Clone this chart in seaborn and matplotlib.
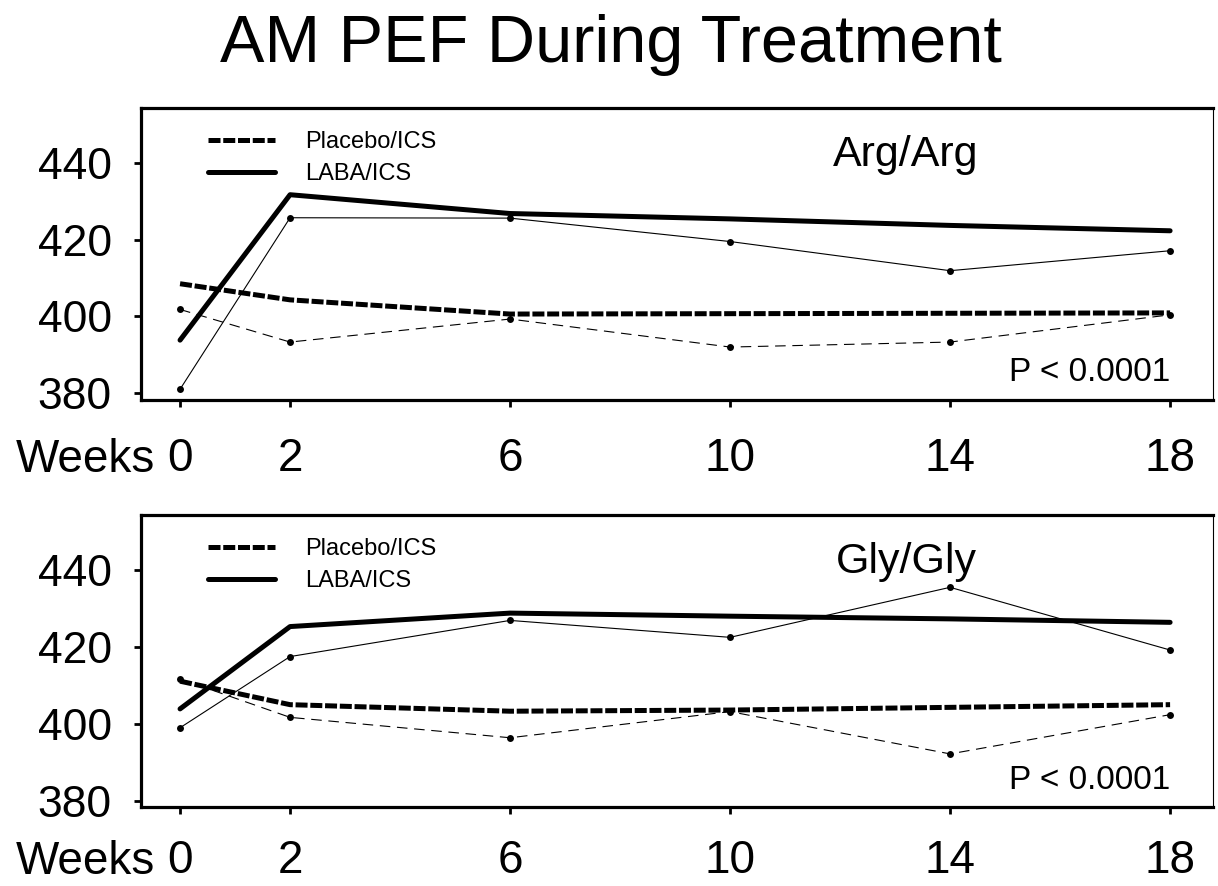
import numpy as np
import matplotlib
matplotlib.use("Agg")
import matplotlib.pyplot as plt
import seaborn as sns

sns.set_style("ticks")
plt.rcParams["font.family"] = ["Liberation Sans", "DejaVu Sans"]
plt.rcParams["text.color"] = "black"
plt.rcParams["xtick.color"] = "black"
plt.rcParams["ytick.color"] = "black"
plt.rcParams["xtick.labelcolor"] = "black"
plt.rcParams["ytick.labelcolor"] = "black"

WEEKS = [0, 2, 6, 10, 14, 18]
WEEK_LABELS = ["0", "2", "6", "10", "14", "18"]
Y_TICKS = [380, 400, 420, 440]

# Arg/Arg: thick = model fit, thin with dots = observed means
ARG_PLACEBO_FIT = [408.5, 404.3, 400.6, 400.7, 400.8, 400.9]
ARG_PLACEBO_OBS = [401.8, 393.3, 399.3, 392.0, 393.3, 400.4]
ARG_LABA_FIT = [393.8, 431.7, 426.8, 425.4, 423.7, 422.3]
ARG_LABA_OBS = [381.0, 425.7, 425.6, 419.5, 411.9, 417.1]

# Gly/Gly
GLY_PLACEBO_FIT = [411.1, 405.0, 403.3, 403.6, 404.3, 405.0]
GLY_PLACEBO_OBS = [411.7, 401.7, 396.4, 403.2, 392.2, 402.4]
GLY_LABA_FIT = [403.9, 425.3, 428.8, 428.0, 427.3, 426.4]
GLY_LABA_OBS = [399.0, 417.5, 426.9, 422.5, 435.5, 419.2]

PANELS = [
    ("Arg/Arg", ARG_PLACEBO_FIT, ARG_PLACEBO_OBS, ARG_LABA_FIT, ARG_LABA_OBS),
    ("Gly/Gly", GLY_PLACEBO_FIT, GLY_PLACEBO_OBS, GLY_LABA_FIT, GLY_LABA_OBS),
]

W, H = 1218, 886
fig = plt.figure(figsize=(W / 100, H / 100), dpi=100)
fig.patch.set_facecolor("white")

# pixel boxes (left, top, right, bottom)
boxes = [(141, 108, 1213, 400), (141, 515, 1213, 807)]
ylims = [(378.2, 454.3), (378.4, 454.3)]
# bottom row of week labels sits right at the figure edge, so nudge it up a bit
xpads = [22, 18]
weeks_y = [-0.245, -0.231]

THICK_DASH = (0, (2.4, 0.55))
THIN_DASH = (0, (9.5, 6))

for i, (name, pl_fit, pl_obs, lb_fit, lb_obs) in enumerate(PANELS):
    l, t, r, b = boxes[i]
    ax = fig.add_axes([l / W, 1 - b / H, (r - l) / W, (b - t) / H])
    ax.set_facecolor("white")

    sns.lineplot(x=WEEKS, y=pl_fit, ax=ax, color="black", linewidth=3.6,
                 linestyle=THICK_DASH, label="Placebo/ICS")
    sns.lineplot(x=WEEKS, y=lb_fit, ax=ax, color="black", linewidth=3.6,
                 label="LABA/ICS")
    sns.lineplot(x=WEEKS, y=pl_obs, ax=ax, color="black", linewidth=0.8,
                 linestyle=THIN_DASH, marker="o", markersize=5,
                 markeredgewidth=0)
    sns.lineplot(x=WEEKS, y=lb_obs, ax=ax, color="black", linewidth=0.8,
                 marker="o", markersize=5, markeredgewidth=0)

    ax.set_xlim(-0.71, 18.78)
    ax.set_ylim(*ylims[i])
    ax.set_xticks(WEEKS)
    ax.set_xticklabels(WEEK_LABELS)
    ax.set_yticks(Y_TICKS)
    ax.set_xlabel("")
    ax.set_ylabel("")
    ax.tick_params(axis="x", labelsize=33, length=5, width=2, pad=xpads[i],
                   direction="out", colors="black")
    ax.tick_params(axis="y", labelsize=32, length=5, width=2, pad=16,
                   direction="out", colors="black")

    for side in ["left", "top", "bottom"]:
        ax.spines[side].set_visible(True)
        ax.spines[side].set_linewidth(2.3)
        ax.spines[side].set_color("black")
    ax.spines["right"].set_visible(True)
    ax.spines["right"].set_linewidth(0.8)
    ax.spines["right"].set_color("black")

    ax.legend(loc="upper left", bbox_to_anchor=(0.0625, 0.92), frameon=False,
              fontsize=17, handlelength=2.85, handletextpad=1.25,
              labelspacing=0.42, borderpad=0, borderaxespad=0)

    ax.text(13.2, 439.2, name, fontsize=31, ha="center", va="baseline")
    ax.text(18, 383.2, "P < 0.0001", fontsize=24, ha="right", va="baseline")
    ax.text(0.013, weeks_y[i], "Weeks", fontsize=33, ha="right", va="baseline",
            transform=ax.transAxes)

fig.text(0.5016, 1 - 62 / H, "AM PEF During Treatment", fontsize=48,
         ha="center", va="baseline")

fig.savefig("out.png", dpi=100, facecolor="white")
